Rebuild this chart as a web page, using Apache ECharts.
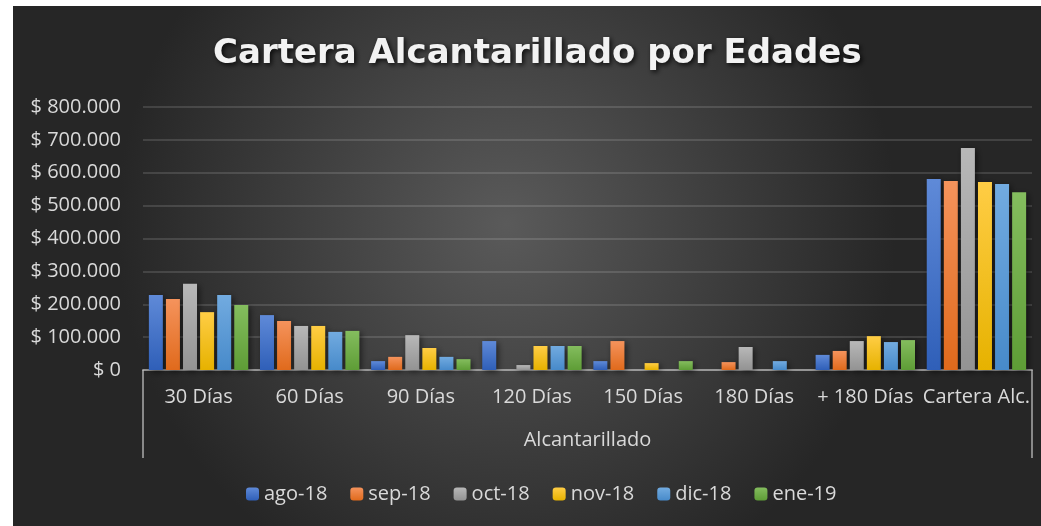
<!DOCTYPE html>
<html>
<head>
<meta charset="utf-8">
<script src="https://cdn.jsdelivr.net/npm/echarts@6/dist/echarts.min.js"></script>
<style>
  html, body { margin: 0; padding: 0; background: #ffffff; }
  #chart { position: absolute; left: 13px; top: 6px; width: 1028px; height: 520px; }
</style>
</head>
<body>
<div id="chart"></div>
<script>
const categories = ["30 Días", "60 Días", "90 Días", "120 Días", "150 Días", "180 Días", "+ 180 Días", "Cartera Alc."];
const groupLabel = ["Alcantarillado"];
const months = ["ago-18", "sep-18", "oct-18", "nov-18", "dic-18", "ene-19"];

const ago18 = [228000, 167000, 27000, 88000, 27000, 0, 46000, 581000];
const sep18 = [216000, 149000, 40000, 0, 88000, 24000, 58000, 575000];
const oct18 = [262000, 134000, 106000, 15000, 0, 70000, 88000, 675000];
const nov18 = [176000, 134000, 67000, 73000, 21000, 0, 103000, 572000];
const dic18 = [228000, 116000, 40000, 73000, 0, 27000, 85000, 566000];
const ene19 = [198000, 119000, 33000, 73000, 27000, 0, 91000, 541000];

const seriesValues = [ago18, sep18, oct18, nov18, dic18, ene19];

// top / bottom colours of each bar gradient
const barColors = [
  ["#5f8ad8", "#2f5fb8"],
  ["#f5935c", "#e06a1c"],
  ["#b8b8b8", "#939393"],
  ["#ffcd45", "#e6b200"],
  ["#72abe0", "#478aca"],
  ["#84bd5e", "#5e9d36"],
];

const font = "'Open Sans', sans-serif";
const textColor = "#d9d9d9";
const lineColor = "rgba(190,190,190,0.65)";

const fmtMoney = (v) => "$ " + String(v).replace(/\B(?=(\d{3})+(?!\d))/g, ".");

const chartInstance = echarts.init(document.getElementById("chart"));

const option = {
  backgroundColor: {
    type: "radial",
    x: 0.48,
    y: 0.42,
    r: 0.75,
    colorStops: [
      { offset: 0, color: "#5a5a5a" },
      { offset: 1, color: "#262626" },
    ],
  },
  animation: false,
  title: {
    text: "Cartera Alcantarillado por Edades",
    left: 195,
    top: 26,
    textStyle: {
      fontFamily: "'DejaVu Sans', sans-serif",
      fontSize: 34,
      fontWeight: "bold",
      color: "#f2f2f2",
      textShadowColor: "rgba(0,0,0,0.8)",
      textShadowBlur: 5,
      textShadowOffsetX: 2,
      textShadowOffsetY: 2,
    },
  },
  legend: {
    data: months,
    bottom: 17,
    left: 228,
    itemWidth: 13,
    itemHeight: 13,
    itemGap: 23,
    textStyle: {
      fontFamily: font,
      fontSize: 20,
      color: textColor,
    },
  },
  grid: {
    left: 130,
    right: 9,
    top: 101,
    bottom: 156,
  },
  xAxis: [
    {
      type: "category",
      data: categories,
      axisLine: { show: true, lineStyle: { color: lineColor, width: 2 } },
      axisTick: { show: false },
      axisLabel: {
        interval: 0,
        margin: 17,
        fontFamily: font,
        fontSize: 20,
        color: textColor,
      },
    },
    {
      type: "category",
      data: groupLabel,
      position: "bottom",
      axisLine: { show: false },
      axisTick: {
        show: true,
        length: 88,
        lineStyle: { color: lineColor, width: 2 },
      },
      axisLabel: {
        margin: 60,
        fontFamily: font,
        fontSize: 20,
        color: textColor,
      },
    },
  ],
  yAxis: {
    type: "value",
    min: 0,
    max: 800000,
    interval: 100000,
    axisLine: { show: false },
    axisTick: { show: false },
    axisLabel: {
      margin: 22,
      fontFamily: font,
      fontSize: 20,
      color: textColor,
      formatter: fmtMoney,
    },
    splitLine: {
      lineStyle: { color: "rgba(255,255,255,0.13)", width: 2 },
    },
  },
  series: months.map((name, i) => ({
    name: name,
    type: "bar",
    data: seriesValues[i],
    barWidth: 14,
    barGap: "22%",
    itemStyle: {
      color: {
        type: "linear",
        x: 0,
        y: 0,
        x2: 0,
        y2: 1,
        colorStops: [
          { offset: 0, color: barColors[i][0] },
          { offset: 1, color: barColors[i][1] },
        ],
      },
      shadowColor: "rgba(0,0,0,0.55)",
      shadowBlur: 6,
      shadowOffsetX: 2,
      shadowOffsetY: 2,
    },
  })),
};

chartInstance.setOption(option);
</script>
</body>
</html>
